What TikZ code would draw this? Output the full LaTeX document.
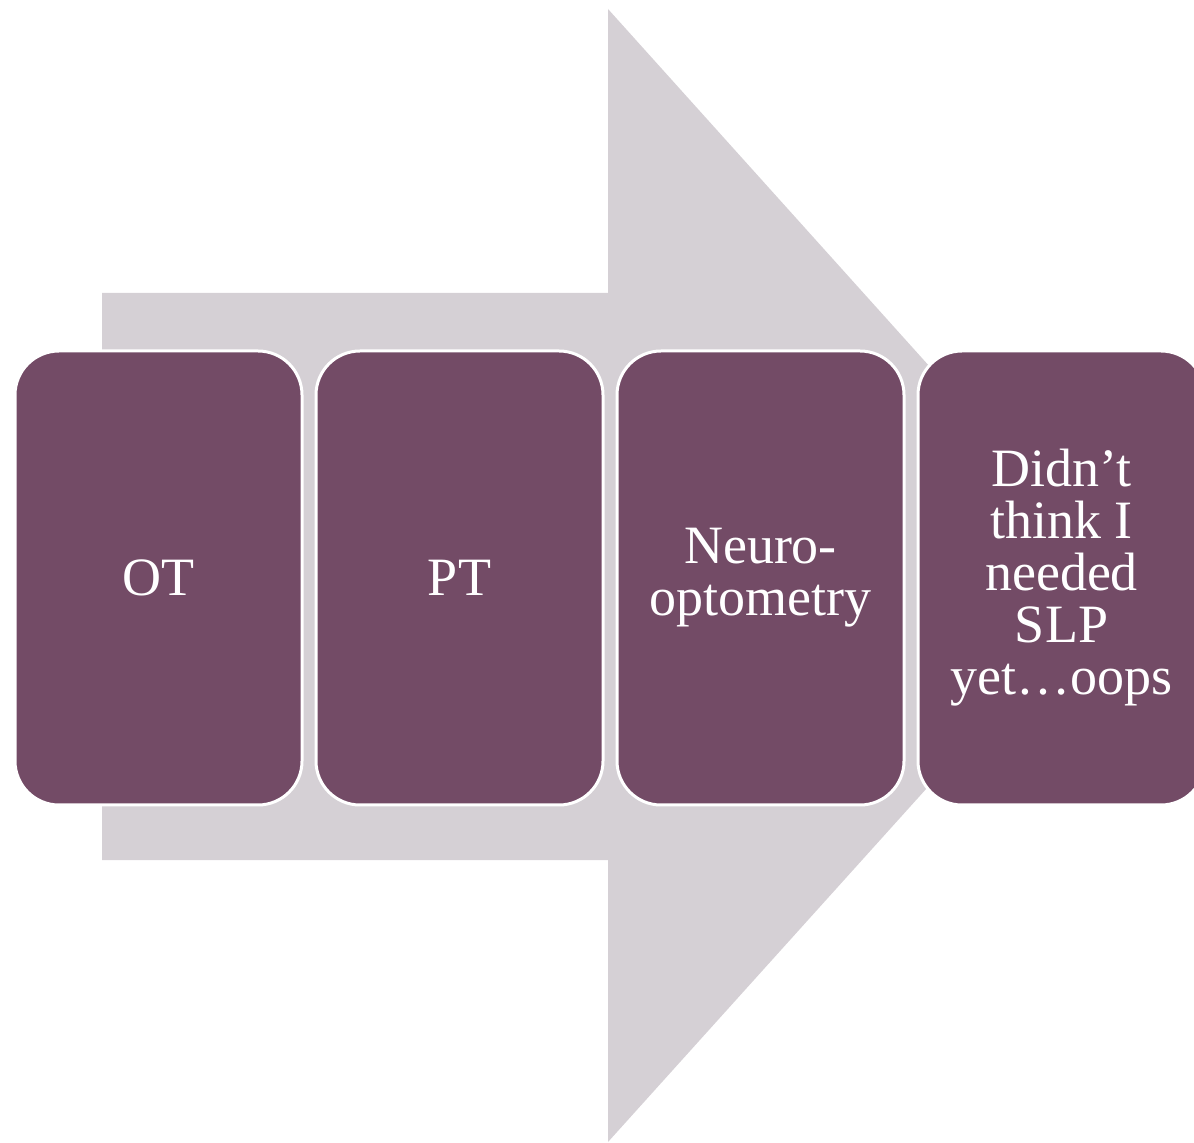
\documentclass[tikz,border=0pt]{standalone}
\usepackage{fontspec}
\setmainfont{Liberation Serif}
\usetikzlibrary{positioning}
\definecolor{arrowgrey}{HTML}{D5D0D5}
\definecolor{plum}{HTML}{734B66}
\tikzset{
  stage/.style={draw=white,line width=1.5pt,fill=plum,rounded corners=22pt,
    minimum width=143.5pt,minimum height=227pt,inner sep=0pt,
    text=white,align=center,font=\fontsize{27}{26}\selectfont},
}
\begin{document}
\begin{tikzpicture}[x=0.5pt,y=-0.5pt,node distance=5.5pt]
  \useasboundingbox (0,0) rectangle (1194,1143);
  \clip (0,0) rectangle (1194,1143);
  % big background arrow
  \fill[arrowgrey] (102,293)--(608,293)--(608,9)--(1118,576)--(608,1142)--(608,860)--(102,860)--cycle;
  % stages
  \node[stage] (ot) at (158.5,578) {OT};
  \node[stage,right=of ot] (pt) {PT};
  \node[stage,right=of pt] (neuro) {Neuro-\\optometry};
  \node[stage,right=of neuro] (slp) {Didn’t\\think I\\needed\\SLP\\yet…oops};
\end{tikzpicture}
\end{document}
